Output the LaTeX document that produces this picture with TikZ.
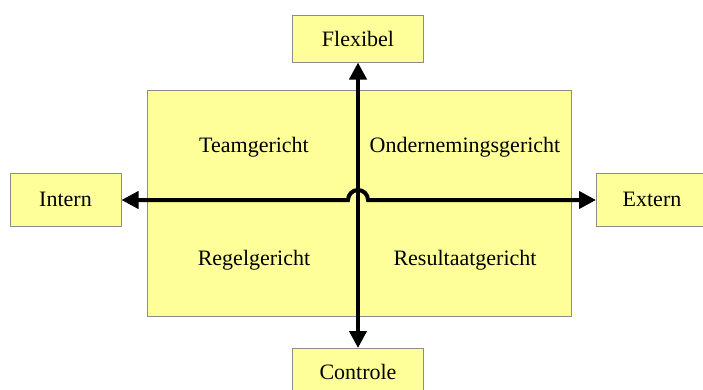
\documentclass[tikz,border=0pt]{standalone}
\usepackage{fontspec}
\setmainfont{Liberation Serif}
\usepackage{xcolor}
\usetikzlibrary{calc, arrows.meta}

\definecolor{vakGeel}{HTML}{FFFF99}
\definecolor{randGrijs}{HTML}{8C8C8C}

\tikzset{
	vak/.style={draw=randGrijs, line width=1pt, fill=vakGeel, inner sep=0pt, font=\fontsize{22}{26}\selectfont},
	as/.style={line width=4pt, {Triangle[length=17pt, width=17pt]}-{Triangle[length=17pt, width=17pt]}},
	label/.style={font=\fontsize{22}{26}\selectfont}
}

\begin{document}
\begin{tikzpicture}[x=1pt, y=-1pt]
			\def\xMid{358};
			\def\yMid{200};
			\def\hump{10};

			\useasboundingbox (0,0) rectangle (703,389);

			\begin{scope}
				\node [vak, minimum width=424pt, minimum height=226pt] (kwadrant) at (359,203) {};
				\node [vak, minimum width=131pt, minimum height=47pt] (flexibel) at (\xMid,38.5) {Flexibel};
				\node [vak, minimum width=131pt, minimum height=47pt, anchor=north] (controle) at (\xMid,348) {\raisebox{-4pt}{Controle}};
				\node [vak, minimum width=111pt, minimum height=53pt] (intern) at (65.5,199.5) {Intern};
				\node [vak, minimum width=111pt, minimum height=53pt, anchor=west] (extern) at (596,199.5) {Extern};
			\end{scope}

			\begin{scope}
				\node [label] (team) at (254,147) {Teamgericht};
				\node [label] (onderneming) at (465,147) {Ondernemingsgericht};
				\node [label] (regel) at (254,260) {Regelgericht};
				\node [label] (resultaat) at (465,260) {Resultaatgericht};
			\end{scope}

			\begin{scope}[as]
				\coordinate (sprongL) at (\xMid-\hump,\yMid);
				\draw (intern.east |- sprongL) -- (sprongL) arc [start angle=180, end angle=360, radius=\hump] -- (extern.west |- sprongL);
				\draw (flexibel.south) -- (controle.north);
			\end{scope}
		\end{tikzpicture}
\end{document}
